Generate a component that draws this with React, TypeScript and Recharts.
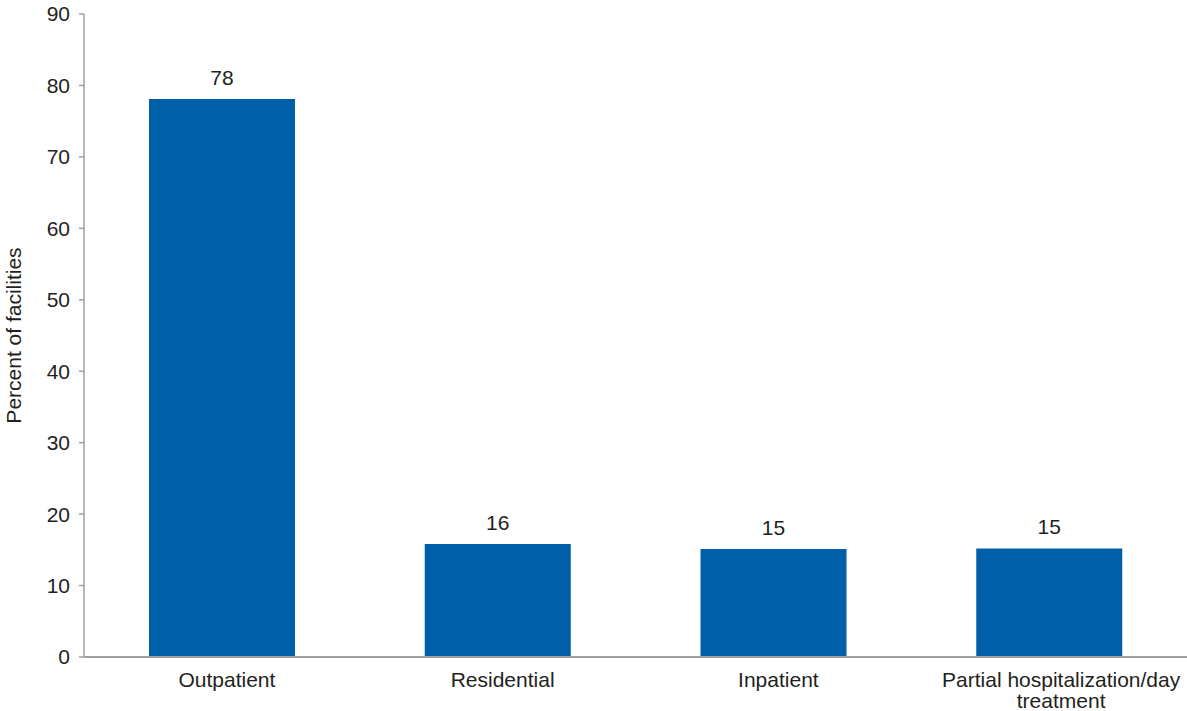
import React from "react";
import { BarChart, Bar, XAxis, YAxis, LabelList } from "recharts";

const categories = [
  "Outpatient",
  "Residential",
  "Inpatient",
  "Partial hospitalization/day treatment",
];
const percentValues = [78.1, 15.8, 15.1, 15.2];
const percentLabels = ["78", "16", "15", "15"];
const yTicks = [0, 10, 20, 30, 40, 50, 60, 70, 80, 90];

const FONT = "'Liberation Sans', Arial, Helvetica, sans-serif";
const TEXT = "#231f20";
const AXIS = "#a0a0a0";
const BAR = "#005fa9";

const data = categories.map((name, i) => ({
  name,
  value: percentValues[i],
  label: percentLabels[i],
}));

// split long category names into lines of ~28 chars
const wrap = (s: string, max = 28) => {
  const lines: string[] = [];
  let cur = "";
  s.split(" ").forEach((w) => {
    const next = cur ? cur + " " + w : w;
    if (next.length > max && cur) {
      lines.push(cur);
      cur = w;
    } else {
      cur = next;
    }
  });
  if (cur) lines.push(cur);
  return lines;
};

const CategoryTick = (props: any) => {
  const { y, payload, index } = props;
  const lines = wrap(String(payload.value));
  // labels sit a little right of the bar centre, the wrapped one more so
  const x = props.x + (lines.length > 1 ? 12 : 5);
  return (
    <text
      x={x}
      y={y}
      textAnchor="middle"
      fill={TEXT}
      fontSize={21}
      fontFamily={FONT}
      data-index={index}
    >
      {lines.map((line, i) => (
        <tspan key={i} x={x} dy={i === 0 ? 22 : 21}>
          {line}
        </tspan>
      ))}
    </text>
  );
};

export default function App() {
  return (
    <div style={{ position: "absolute", left: 0, top: 0, background: "#fff" }}>
      <BarChart
        width={1187}
        height={711}
        data={data}
        margin={{ top: 14, right: 0, left: 0, bottom: 0 }}
        barSize={146}
      >
        <XAxis
          dataKey="name"
          axisLine={{ stroke: AXIS, strokeWidth: 2 }}
          tickLine={false}
          height={54}
          interval={0}
          tick={<CategoryTick />}
        />
        <YAxis
          domain={[0, 90]}
          ticks={yTicks}
          width={84}
          axisLine={{ stroke: AXIS, strokeWidth: 1.5 }}
          tickLine={{ stroke: AXIS, strokeWidth: 1.5 }}
          tickSize={5}
          tickMargin={9}
          tick={{ fill: TEXT, fontSize: 21, fontFamily: FONT }}
          label={{
            value: "Percent of facilities",
            angle: -90,
            position: "insideLeft",
            offset: 14,
            style: {
              textAnchor: "middle",
              fill: TEXT,
              fontSize: 21,
              fontFamily: FONT,
            },
          }}
        />
        <Bar dataKey="value" fill={BAR} isAnimationActive={false}>
          <LabelList
            dataKey="label"
            position="top"
            offset={14}
            style={{ fill: TEXT, fontSize: 21, fontFamily: FONT }}
          />
        </Bar>
      </BarChart>
    </div>
  );
}
